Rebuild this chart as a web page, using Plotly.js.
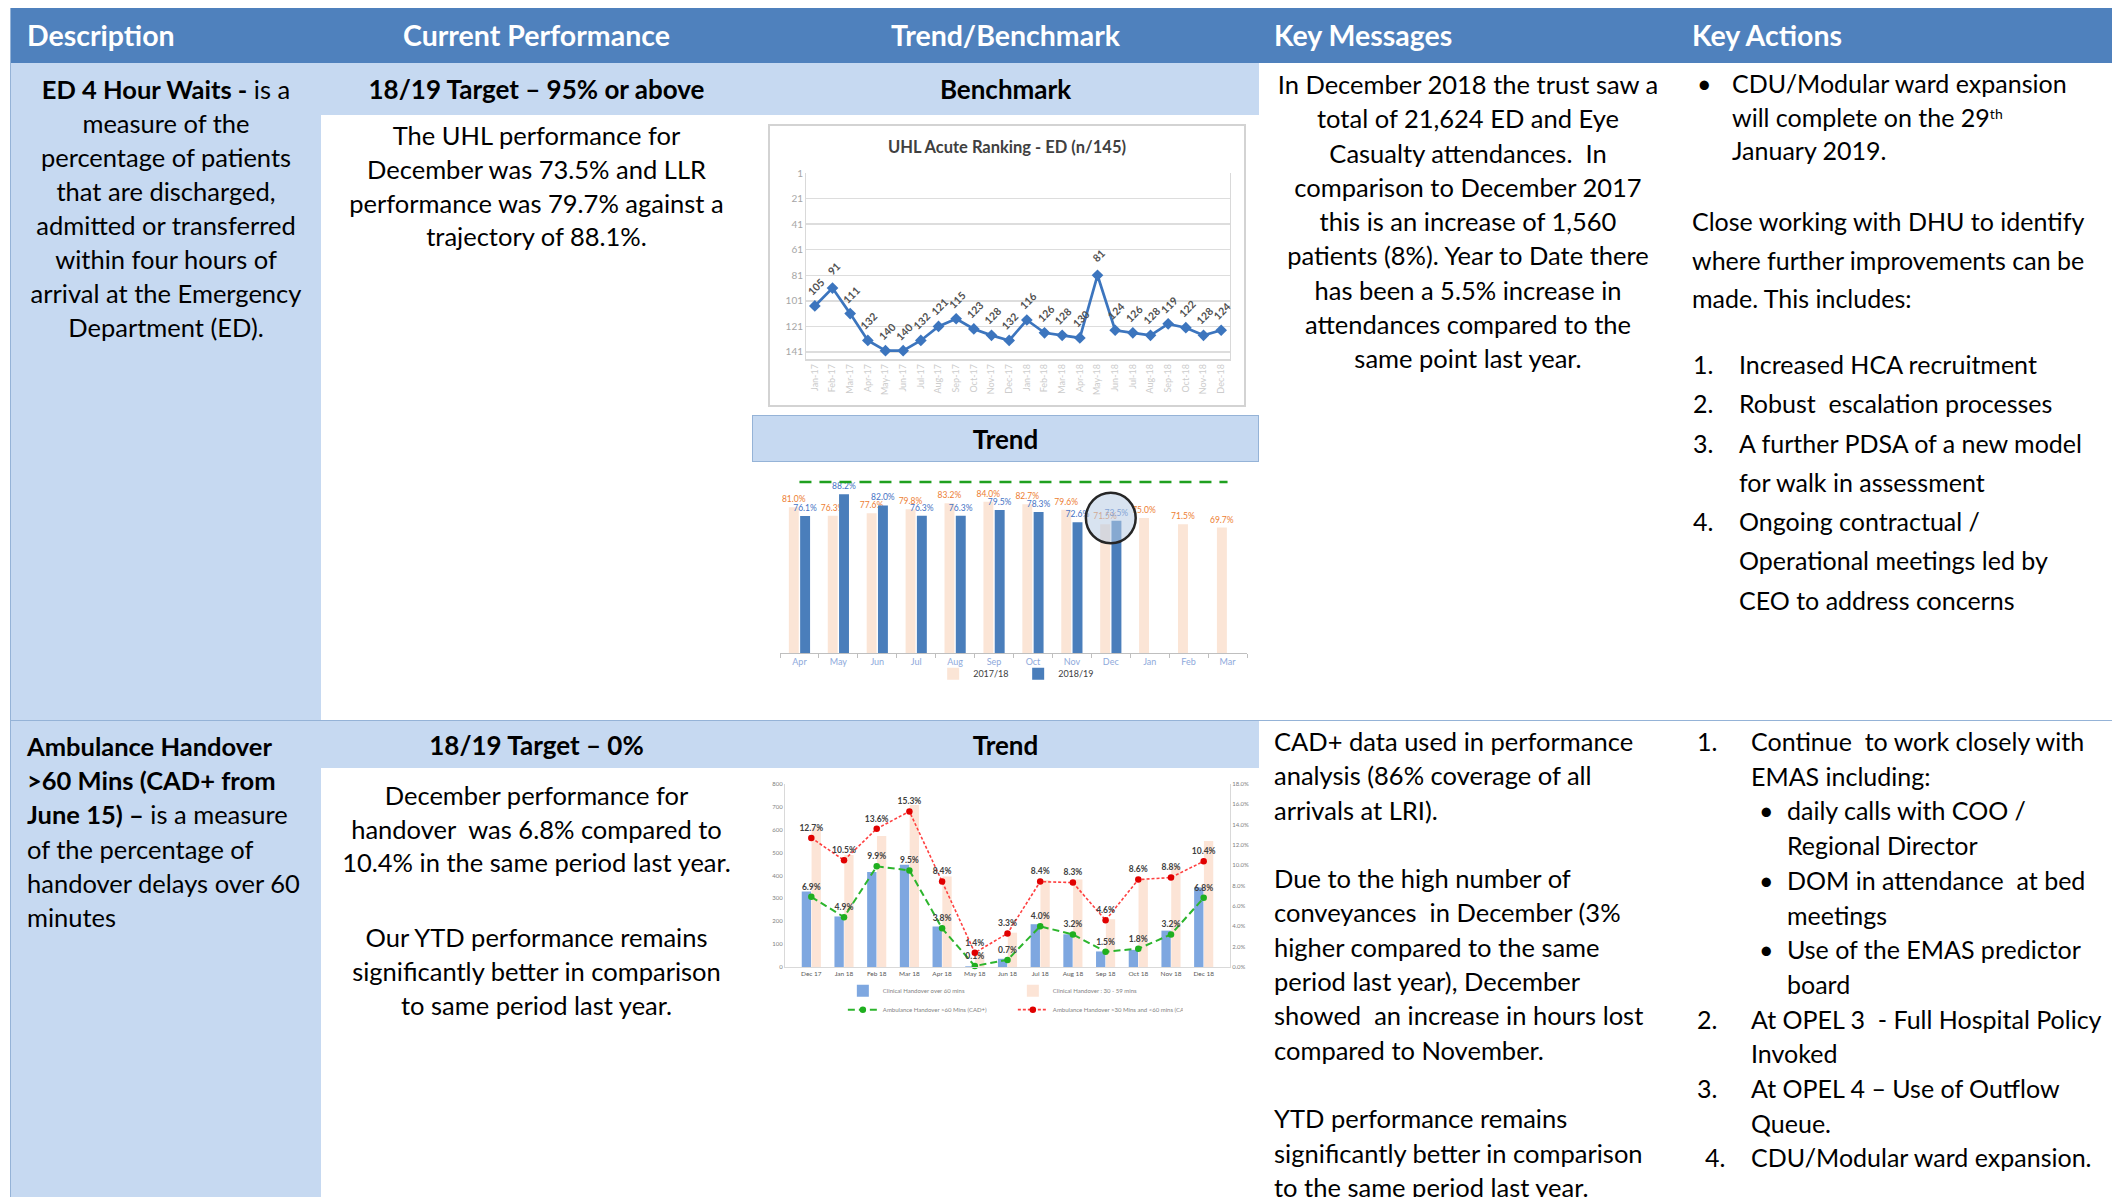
<!DOCTYPE html>
<html><head><meta charset="utf-8">
<script src="https://cdn.plot.ly/plotly-3.0.1.min.js"></script>
<style>
html,body{margin:0;padding:0;}
body{width:2112px;height:1197px;position:relative;overflow:hidden;background:#fff;font-family:Lato,'Open Sans',sans-serif;color:#000;}
.a{position:absolute;}
.lb{position:absolute;background:#C6D9F1;}
.hdr{position:absolute;top:8px;height:55px;line-height:55px;color:#fff;font-weight:bold;font-size:28.5px;white-space:nowrap;}
.t{position:absolute;white-space:nowrap;font-size:25.5px;line-height:34px;}
.ka{font-size:25px;}
.c{text-align:center;}
.b{font-weight:bold;}
.band{position:absolute;text-align:center;font-weight:bold;font-size:26px;background:#C6D9F1;white-space:nowrap;}
sup{font-size:14px;vertical-align:top;position:relative;top:-4px;}
</style></head>
<body>
<!-- header -->
<div class="a" style="left:11px;top:8px;width:2101px;height:55px;background:#4F81BD;"></div>
<div class="hdr" style="left:27px;">Description</div>
<div class="hdr c" style="left:321px;width:431px;">Current Performance</div>
<div class="hdr c" style="left:752px;width:507px;">Trend/Benchmark</div>
<div class="hdr" style="left:1274px;">Key Messages</div>
<div class="hdr" style="left:1692px;">Key Actions</div>

<!-- light blue areas -->
<div class="lb" style="left:11px;top:63px;width:310px;height:1134px;"></div>
<div class="band" style="left:321px;top:63px;width:431px;height:52px;line-height:52px;">18/19 Target – 95% or above</div>
<div class="band" style="left:752px;top:63px;width:507px;height:52px;line-height:52px;">Benchmark</div>
<div class="band" style="left:752px;top:415px;width:507px;height:47px;line-height:47px;box-sizing:border-box;border:1px solid #95B3D7;">Trend</div>
<div class="band" style="left:321px;top:721px;width:431px;height:47px;line-height:49px;">18/19 Target – 0%</div>
<div class="band" style="left:752px;top:721px;width:507px;height:47px;line-height:49px;">Trend</div>
<div class="a" style="left:11px;top:720px;width:2101px;height:1px;background:#95B3D7;"></div>
<div class="a" style="left:10px;top:8px;width:1px;height:1189px;background:#95B3D7;"></div>

<!-- row 1 texts -->
<div class="t c" style="left:11px;width:310px;top:72px;line-height:34px;"><span class="b">ED 4 Hour Waits -</span> is a<br>measure of the<br>percentage of patients<br>that are discharged,<br>admitted or transferred<br>within four hours of<br>arrival at the Emergency<br>Department (ED).</div>
<div class="t c" style="left:321px;width:431px;top:119px;line-height:33.8px;">The UHL performance for<br>December was 73.5% and LLR<br>performance was 79.7% against a<br>trajectory of 88.1%.</div>
<div class="t c" style="left:1259px;width:418px;top:67px;line-height:34.25px;">In December 2018 the trust saw a<br>total of 21,624 ED and Eye<br>Casualty attendances.&nbsp; In<br>comparison to December 2017<br>this is an increase of 1,560<br>patients (8%). Year to Date there<br>has been a 5.5% increase in<br>attendances compared to the<br>same point last year.</div>
<div class="t ka" style="left:1697px;top:67px;line-height:33.5px;">•</div>
<div class="t ka" style="left:1732px;top:67px;line-height:33.5px;">CDU/Modular ward expansion<br>will complete on the 29<sup>th</sup><br>January 2019.</div>
<div class="t ka" style="left:1692px;top:202px;line-height:38.5px;">Close working with DHU to identify<br>where further improvements can be<br>made. This includes:</div>
<div class="t ka" style="left:1693px;top:345px;line-height:39.3px;">1.<br>2.<br>3.<br><br>4.</div>
<div class="t ka" style="left:1739px;top:345px;line-height:39.3px;">Increased HCA recruitment<br>Robust&nbsp; escalation processes<br>A further PDSA of a new model<br>for walk in assessment<br>Ongoing contractual /<br>Operational meetings led by<br>CEO to address concerns</div>

<!-- row 2 texts -->
<div class="t" style="left:27px;top:729px;line-height:34.2px;"><span class="b">Ambulance Handover<br>&gt;60 Mins (CAD+ from<br>June 15) –</span> is a measure<br>of the percentage of<br>handover delays over 60<br>minutes</div>
<div class="t c" style="left:321px;width:431px;top:779px;line-height:33.5px;">December performance for<br>handover&nbsp; was 6.8% compared to<br>10.4% in the same period last year.</div>
<div class="t c" style="left:321px;width:431px;top:920px;line-height:34px;">Our YTD performance remains<br>significantly better in comparison<br>to same period last year.</div>
<div class="t" style="left:1274px;top:724px;line-height:34.3px;">CAD+ data used in performance<br>analysis (86% coverage of all<br>arrivals at LRI).<br><br>Due to the high number of<br>conveyances&nbsp; in December (3%<br>higher compared to the same<br>period last year), December<br>showed&nbsp; an increase in hours lost<br>compared to November.<br><br>YTD performance remains<br>significantly better in comparison<br>to the same period last year.</div>
<div class="t ka" style="left:1697px;top:724px;line-height:34.7px;">1.<br><br><br><br><br><br><br><br>2.<br><br>3.</div>
<div class="t ka" style="left:1705px;top:724px;line-height:34.7px;"><br><br><br><br><br><br><br><br><br><br><br><br>4.</div>
<div class="t ka" style="left:1751px;top:724px;line-height:34.7px;">Continue&nbsp; to work closely with<br>EMAS including:<br><br><br><br><br><br><br>At OPEL 3&nbsp; - Full Hospital Policy<br>Invoked<br>At OPEL 4 – Use of Outflow<br>Queue.<br>CDU/Modular ward expansion.</div>
<div class="t ka" style="left:1759px;top:724px;line-height:34.7px;"><br><br>•<br><br>•<br><br>•</div>
<div class="t ka" style="left:1787px;top:724px;line-height:34.7px;"><br><br>daily calls with COO /<br>Regional Director<br>DOM in attendance&nbsp; at bed<br>meetings<br>Use of the EMAS predictor<br>board</div>

<!-- charts -->
<div class="a" style="left:768px;top:124px;width:478px;height:283px;box-sizing:border-box;border:2px solid #D3D3D3;"></div>
<div id="bench" class="a" style="left:768px;top:124px;width:478px;height:283px;"></div>
<div id="trend" class="a" style="left:775px;top:465px;width:480px;height:240px;"></div>
<div id="amb" class="a" style="left:760px;top:775px;width:505px;height:262px;"></div>

<script>
// ---------- data ----------
const rankMonths = ['Jan-17','Feb-17','Mar-17','Apr-17','May-17','Jun-17','Jul-17','Aug-17','Sep-17','Oct-17','Nov-17','Dec-17',
                    'Jan-18','Feb-18','Mar-18','Apr-18','May-18','Jun-18','Jul-18','Aug-18','Sep-18','Oct-18','Nov-18','Dec-18'];
const rankValues = [105,91,111,132,140,140,132,121,115,123,128,132,116,126,128,130,81,124,126,128,119,122,128,124];
const rankTicks = [1,21,41,61,81,101,121,141];

const trendMonths = ['Apr','May','Jun','Jul','Aug','Sep','Oct','Nov','Dec','Jan','Feb','Mar'];
const perf1718 = [81.0,76.3,77.6,79.8,83.2,84.0,82.7,79.6,71.5,75.0,71.5,69.7];
const perf1819 = [76.1,88.2,82.0,76.3,76.3,79.5,78.3,72.6,73.5];
const targetLine = [95,95,95,95,95,95,95,95,95,95,95,95];

const handoverMonths = ['Dec 17','Jan 18','Feb 18','Mar 18','Apr 18','May 18','Jun 18','Jul 18','Aug 18','Sep 18','Oct 18','Nov 18','Dec 18'];
const clinicalOver60 = [330,221,415,447,177,3,36,187,143,68,75,159,348];
const clinical30to59 = [607,490,573,708,396,60,150,380,383,209,383,438,551];
const ambOver60Pct = [6.9,4.9,9.9,9.5,3.8,0.1,0.7,4.0,3.2,1.5,1.8,3.2,6.8];
const amb30to60Pct = [12.7,10.5,13.6,15.3,8.4,1.4,3.3,8.4,8.3,4.6,8.6,8.8,10.4];

const FONT = 'Lato, "Open Sans", sans-serif';
const cfg = {staticPlot:true, displayModeBar:false};
const pct = v => v.toFixed(1) + '%';

// ---------- benchmark ranking chart ----------
Plotly.newPlot('bench', [{
  type:'scatter', mode:'lines+markers', x:rankMonths, y:rankValues,
  line:{color:'#3C75BE', width:2.7},
  marker:{symbol:'diamond', size:9, color:'#3C75BE'},
  hoverinfo:'skip'
}], {
  width:478, height:283, margin:{l:38, r:16, t:49, b:48},
  paper_bgcolor:'rgba(0,0,0,0)', plot_bgcolor:'rgba(0,0,0,0)',
  font:{family:FONT},
  title:{text:'UHL Acute Ranking - ED (n/145)', font:{family:FONT, size:16.5, weight:'bold', color:'#404040'},
         x:0.5, xanchor:'center', xref:'container', y:1-23/283, yanchor:'middle', yref:'container'},
  xaxis:{type:'category', range:[-0.5, rankMonths.length-0.5], autorange:false, tickangle:-90,
         tickfont:{size:9, color:'#CCCCCC'}, showgrid:false,
         showline:true, linecolor:'#D9D9D9', linewidth:1.5, mirror:false, ticks:''},
  yaxis:{range:[146.5,1], autorange:false, tickvals:rankTicks, tickfont:{size:10, color:'#A6A6A6'},
         gridcolor:'#DDDDDD', gridwidth:1.5, showline:true, linecolor:'#D9D9D9', mirror:true, zeroline:false, ticks:''},
  annotations: rankValues.map((v,i)=>({x:rankMonths[i], y:v, xref:'x', yref:'y', text:String(v), textangle:-45,
         showarrow:false, yshift:19, xshift:1, font:{family:FONT, size:10.5, weight:'bold', color:'#505050'}})),
  showlegend:false
}, cfg);

// ---------- ED 4 hour trend chart ----------
Plotly.newPlot('trend', [
  {type:'bar', name:'2017/18', x:trendMonths, y:perf1718, marker:{color:'#FBE5D6'},
   text:perf1718.map(pct), textposition:'outside', constraintext:'none', cliponaxis:false,
   textfont:{family:FONT, size:8.5, color:'#ED7D31'}, hoverinfo:'skip'},
  {type:'bar', name:'2018/19', x:trendMonths.slice(0, perf1819.length), y:perf1819, marker:{color:'#4A7EBB'},
   text:perf1819.map(pct), textposition:'outside', constraintext:'none', cliponaxis:false,
   textfont:{family:FONT, size:8.5, color:'#4472C4'}, hoverinfo:'skip'},
  {type:'scatter', mode:'lines', x:trendMonths, y:targetLine, showlegend:false,
   line:{color:'#1FA01F', width:2.5, dash:'12px,8px'}, hoverinfo:'skip'}
], {
  width:480, height:240, margin:{l:5, r:8, t:8, b:52},
  paper_bgcolor:'rgba(0,0,0,0)', plot_bgcolor:'rgba(0,0,0,0)',
  font:{family:FONT},
  barmode:'group', bargap:0.42, bargroupgap:0.12,
  xaxis:{type:'category', categoryorder:'array', categoryarray:trendMonths, tickfont:{size:9, color:'#8EA9DB'},
         showline:true, linecolor:'#BFBFBF', ticks:'outside', tickson:'boundaries', ticklen:4, tickcolor:'#BFBFBF', showgrid:false},
  yaxis:{range:[0,100], visible:false},
  showlegend:true,
  legend:{orientation:'h', x:0.51, xanchor:'center', y:-0.115, yanchor:'middle', font:{size:9, color:'#404040'},
          itemwidth:30, entrywidth:40, bgcolor:'rgba(0,0,0,0)'},
  shapes:[{type:'circle', xref:'x', yref:'y', x0:7.36, x1:8.64, y0:61, y1:89,
           fillcolor:'rgba(184,204,228,0.55)', line:{color:'#262626', width:2.5}, layer:'above'}]
}, cfg);

// ---------- ambulance handover chart ----------
Plotly.newPlot('amb', [
  {type:'bar', name:'Clinical Handover over 60 mins', x:handoverMonths, y:clinicalOver60,
   marker:{color:'#7EA7E0'}, hoverinfo:'skip'},
  {type:'bar', name:'Clinical Handover : 30 - 59 mins', x:handoverMonths, y:clinical30to59,
   marker:{color:'#FCE4D6'}, hoverinfo:'skip'},
  {type:'scatter', name:'Ambulance Handover &gt;60 Mins (CAD+)', x:handoverMonths, y:ambOver60Pct, yaxis:'y2',
   mode:'lines+markers+text', line:{color:'#2DB52D', width:2, dash:'7px,4px'}, marker:{size:6.5, color:'#1FAF1F'},
   text:ambOver60Pct.map(pct), textposition:'top center', cliponaxis:false,
   textfont:{family:FONT, size:8.5, weight:'bold', color:'#404040'}, hoverinfo:'skip'},
  {type:'scatter', name:'Ambulance Handover &gt;30 Mins and &lt;60 mins (CAD+)', x:handoverMonths, y:amb30to60Pct, yaxis:'y2',
   mode:'lines+markers+text', line:{color:'#FF4040', width:1.6, dash:'3px,2px'}, marker:{size:6.5, color:'#E00000'},
   text:amb30to60Pct.map(pct), textposition:'top center', cliponaxis:false,
   textfont:{family:FONT, size:8.5, weight:'bold', color:'#404040'}, hoverinfo:'skip'}
], {
  width:505, height:262, margin:{l:25, r:35, t:9, b:70},
  paper_bgcolor:'rgba(0,0,0,0)', plot_bgcolor:'rgba(0,0,0,0)',
  font:{family:FONT},
  barmode:'group', bargap:0.4, bargroupgap:0.05,
  xaxis:{type:'category', tickfont:{size:6.5, color:'#595959'}, showline:true, linecolor:'#D9D9D9', ticks:'', showgrid:false},
  yaxis:{range:[0,800], dtick:100, tickfont:{size:6, color:'#7F7F7F'}, showgrid:false, zeroline:false,
         showline:true, linecolor:'#D9D9D9', ticks:''},
  yaxis2:{range:[0,18], dtick:2, tickformat:'.1f', ticksuffix:'%', overlaying:'y', side:'right',
          tickfont:{size:6, color:'#7F7F7F'}, showgrid:false, zeroline:false, showline:true, linecolor:'#D9D9D9', ticks:''},
  showlegend:true,
  legend:{orientation:'h', x:0.13, xanchor:'left', y:-0.05, yanchor:'top', font:{size:6, color:'#7F7F7F'},
          itemwidth:30, entrywidth:125, traceorder:'normal', bgcolor:'rgba(0,0,0,0)'}
}, cfg);
</script>
</body></html>
